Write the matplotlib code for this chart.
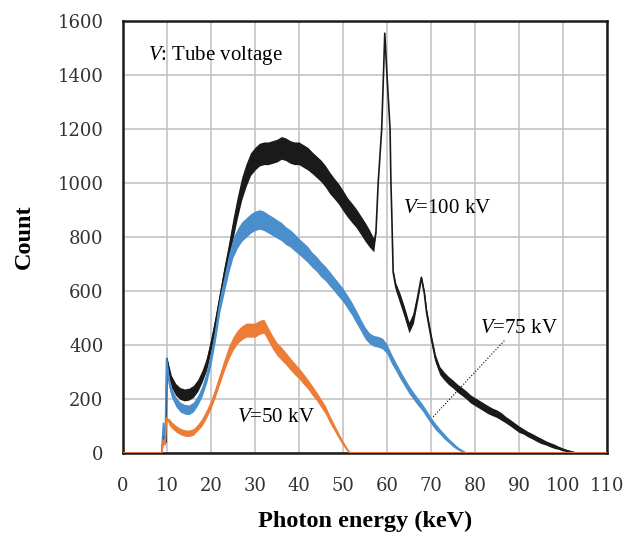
import numpy as np
import matplotlib.pyplot as plt

plt.rcParams['mathtext.fontset'] = 'custom'
plt.rcParams['mathtext.rm'] = 'Liberation Serif'
plt.rcParams['mathtext.it'] = 'Liberation Serif:italic'

# photon energy (keV), centre count and half width of the noise band
e100 = [0, 8.8, 9.3, 9.8, 10.0, 10.5, 11, 12, 13, 14, 15, 16, 17, 18, 19, 20, 21, 22, 23, 24,
        25, 26, 27, 28, 29, 30, 31, 32, 33, 34, 35, 36, 37, 38, 39, 40, 41, 42, 43, 44,
        45, 46, 47, 48, 49, 50, 51, 52, 53, 54, 55, 56, 57, 57.5, 58.0, 58.8, 59.2, 59.5,
        60.0, 60.7, 60.9, 61.1, 61.4, 62, 63, 64, 65, 66, 67, 67.8, 68.5, 69, 70, 71, 72,
        73, 74, 75, 76, 77, 78, 79, 80, 81, 82, 83, 84, 85, 86, 87, 88, 89, 90, 91, 92,
        93, 94, 95, 96, 97, 98, 99, 100, 101, 102, 103, 110]
c100 = [0, 0, 70, 40, 350, 300, 265, 235, 220, 215, 218, 228, 250, 285, 330, 400, 480, 570, 660, 740,
        830, 910, 980, 1030, 1070, 1090, 1105, 1110, 1110, 1115, 1120, 1130, 1125, 1115, 1110, 1110, 1100, 1090, 1075, 1060,
        1045, 1025, 1000, 980, 960, 935, 910, 890, 870, 845, 820, 795, 770, 820, 1000, 1200, 1400, 1555,
        1400, 1200, 1000, 880, 670, 615, 570, 520, 465, 500, 580, 650, 590, 520, 430, 350, 305,
        285, 268, 255, 240, 228, 215, 200, 190, 180, 170, 160, 152, 145, 135, 123, 112, 100, 88, 80, 70,
        62, 53, 45, 38, 31, 25, 19, 13, 8, 4, 0, 0]
s100 = [0, 0, 0, 0, 0, 20, 22, 22, 22, 22, 22, 22, 22, 22, 24, 25, 28, 30, 32, 35,
        38, 40, 42, 42, 42, 42, 42, 42, 42, 42, 42, 42, 42, 42, 42, 42, 42, 42, 40, 40,
        40, 40, 40, 38, 38, 38, 36, 36, 35, 35, 35, 32, 25, 5, 0, 0, 0, 0,
        0, 0, 0, 0, 10, 15, 20, 20, 20, 20, 15, 8, 12, 15, 15, 15, 15,
        15, 15, 15, 15, 15, 15, 15, 15, 15, 15, 15, 14, 14, 14, 12, 12, 12, 12, 10, 10,
        10, 10, 10, 8, 8, 8, 6, 5, 4, 2, 0, 0]

e75 = [0, 8.8, 9.2, 9.6, 9.9, 10.5, 11, 12, 13, 14, 15, 16, 17, 18, 19, 20, 21, 22, 23, 24,
       25, 26, 27, 28, 29, 30, 31, 32, 33, 34, 35, 36, 37, 38, 39, 40, 41, 42, 43, 44,
       45, 46, 47, 48, 49, 50, 51, 52, 53, 54, 55, 56, 57, 58, 59, 60, 61, 62, 63, 64,
       65, 66, 67, 68, 69, 70, 71, 72, 73, 74, 75, 76, 77, 78, 110]
c75 = [0, 0, 110, 40, 350, 260, 225, 190, 170, 162, 160, 170, 195, 230, 280, 350, 440, 550, 625, 700,
       760, 795, 820, 835, 850, 860, 865, 860, 850, 840, 830, 820, 805, 795, 780, 765, 750, 735, 715, 700,
       680, 665, 645, 625, 605, 585, 560, 535, 505, 475, 445, 425, 415, 412, 405, 385, 350, 320, 290, 262,
       235, 212, 190, 170, 145, 120, 98, 80, 62, 46, 31, 18, 8, 0, 0]
s75 = [0, 0, 0, 0, 0, 18, 18, 18, 18, 18, 18, 18, 18, 20, 22, 24, 26, 30, 32, 35,
       36, 36, 36, 36, 36, 36, 36, 36, 35, 35, 34, 34, 33, 32, 32, 30, 30, 30, 28, 28,
       28, 27, 27, 26, 26, 25, 25, 24, 24, 22, 22, 20, 20, 20, 20, 18, 18, 16, 16, 15,
       15, 14, 14, 13, 13, 12, 12, 10, 10, 8, 8, 6, 4, 0, 0]

e50 = [0, 8.8, 9.2, 9.6, 9.9, 10.5, 11, 12, 13, 14, 15, 16, 17, 18, 19, 20, 21, 22, 23, 24,
       25, 26, 27, 28, 29, 30, 31, 32, 33, 34, 35, 36, 37, 38, 39, 40, 41, 42, 43, 44,
       45, 46, 47, 48, 49, 50, 51, 51.6, 110]
c50 = [0, 0, 48, 30, 130, 115, 105, 90, 80, 74, 73, 78, 95, 115, 145, 180, 225, 275, 325, 370,
       405, 430, 445, 455, 455, 455, 465, 470, 440, 410, 385, 368, 350, 330, 312, 295, 275, 255, 232, 210,
       185, 160, 125, 95, 65, 36, 12, 0, 0]
s50 = [0, 0, 0, 0, 0, 12, 12, 12, 12, 12, 12, 12, 12, 14, 15, 16, 18, 20, 22, 24,
       25, 25, 26, 26, 26, 26, 26, 26, 25, 25, 24, 24, 23, 22, 22, 20, 20, 18, 18, 16,
       16, 15, 14, 12, 10, 8, 5, 0, 0]

series = [
    (e100, c100, s100, '#1a1a1a'),
    (e75, c75, s75, '#4a8fcb'),
    (e50, c50, s50, '#ec7c36'),
]

xticks = list(range(0, 111, 10))
yticks = list(range(0, 1601, 200))

fig = plt.figure(figsize=(6.29, 5.39), dpi=100)
ax = fig.add_axes([0.1955, 0.1596, 0.7695, 0.8014])

for e, c, s, col in series:
    e = np.array(e, dtype=float)
    c = np.array(c, dtype=float)
    s = np.array(s, dtype=float)
    ax.fill_between(e, c - s, c + s, color=col, lw=0, zorder=3)
    ax.plot(e, c, color=col, lw=1.2, zorder=3)

ax.set_xlim(0, 110)
ax.set_ylim(0, 1600)
ax.set_xticks(xticks)
ax.set_yticks(yticks)
ax.grid(True, color='#c4c4c4', lw=1.2, zorder=0)
ax.set_axisbelow(True)
ax.tick_params(length=0, labelsize=13, labelcolor='#333333')
ax.tick_params(axis='x', pad=17)
ax.tick_params(axis='y', pad=14)
for lab in ax.get_xticklabels() + ax.get_yticklabels():
    lab.set_family('DejaVu Serif')
for sp in ax.spines.values():
    sp.set_linewidth(1.8)
    sp.set_color('#1a1a1a')

serif = 'Liberation Serif'
ax.set_xlabel('Photon energy (keV)', family=serif, fontweight='bold', fontsize=17.5, labelpad=12)
ax.set_ylabel('Count', family=serif, fontweight='bold', fontsize=17.5, labelpad=16)

tkw = dict(family=serif, fontsize=15, va='center', zorder=5)
ax.text(5.7, 1474, r'$\it{V}$: Tube voltage', **tkw)
ax.text(63.6, 907, r'$\it{V}$=100 kV', **tkw)
ax.text(81.1, 460, r'$\it{V}$=75 kV', **tkw)
ax.text(25.9, 130, r'$\it{V}$=50 kV', **tkw)
ax.plot([70.5, 86.8], [134, 418], color='black', lw=0.8, ls=':', zorder=4)

fig.savefig('out.png', dpi=100)
